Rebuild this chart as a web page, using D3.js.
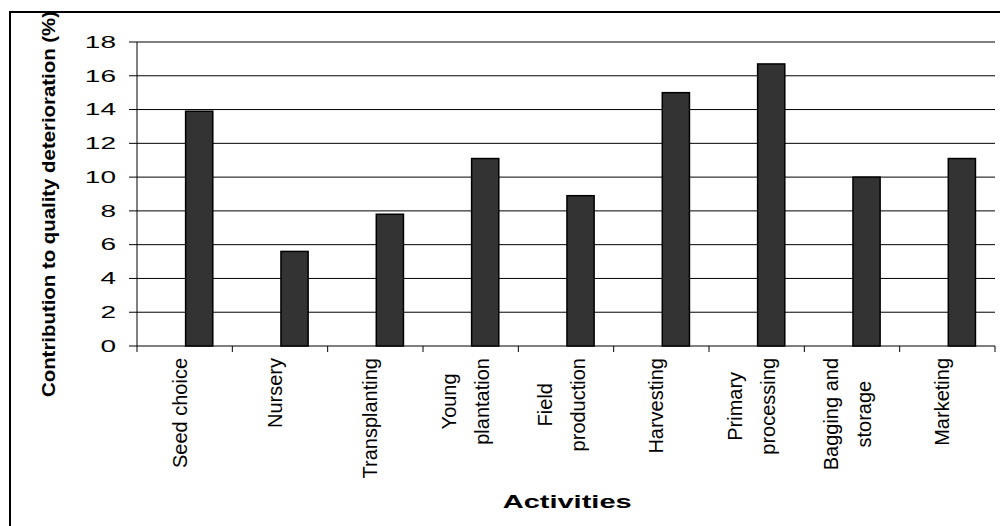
<!DOCTYPE html>
<html>
<head>
<meta charset="utf-8">
<script src="https://cdn.jsdelivr.net/npm/d3@7"></script>
<style>
  body { margin: 0; background: #fff; }
  svg { display: block; font-family: "Liberation Sans", Arial, sans-serif; }
</style>
</head>
<body>
<div id="chart"></div>
<script>
// values
const categories = ["Seed choice", "Nursery", "Transplanting", "Young plantation", "Field production",
                    "Harvesting", "Primary processing", "Bagging and storage", "Marketing"];
const labelLines = [["Seed choice"], ["Nursery"], ["Transplanting"], ["Young", "plantation"], ["Field", "production"],
                    ["Harvesting"], ["Primary", "processing"], ["Bagging and", "storage"], ["Marketing"]];
const values = [13.9, 5.6, 7.8, 11.1, 8.9, 15.0, 16.7, 10.0, 11.1];
const yTicks = [0, 2, 4, 6, 8, 10, 12, 14, 16, 18];
const yTitle = "Contribution to quality deterioration (%)";
const xTitle = "Activities";

const width = 1000, height = 526;
const plotLeft = 137, plotRight = 995, plotTop = 42, plotBottom = 346;

const svg = d3.select("#chart").append("svg")
    .attr("width", width)
    .attr("height", height);

svg.append("clipPath").attr("id", "frame-clip")
  .append("rect").attr("x", 10).attr("y", 12).attr("width", width).attr("height", height);

const g = svg.append("g").attr("clip-path", "url(#frame-clip)");

const x = d3.scaleBand().domain(categories).range([plotLeft, plotRight]).padding(0);
const y = d3.scaleLinear().domain([0, 18]).range([plotBottom, plotTop]);

// gridlines + y ticks
g.selectAll(".grid").data(yTicks).join("line")
    .attr("x1", plotLeft - 8).attr("x2", plotRight)
    .attr("y1", d => y(d)).attr("y2", d => y(d))
    .attr("stroke", "#000").attr("stroke-width", 1);

// y axis line
g.append("line")
    .attr("x1", plotLeft).attr("x2", plotLeft).attr("y1", plotTop).attr("y2", plotBottom)
    .attr("stroke", "#000").attr("stroke-width", 1);

// x ticks at category boundaries
const bounds = categories.map(c => x(c)).concat([plotRight]);
g.selectAll(".xtick").data(bounds).join("line")
    .attr("x1", d => d).attr("x2", d => d)
    .attr("y1", plotBottom).attr("y2", plotBottom + 6)
    .attr("stroke", "#000").attr("stroke-width", 1);

// bars
g.selectAll(".bar").data(values).join("rect")
    .attr("x", (d, i) => x(categories[i]) + x.bandwidth() * 0.51)
    .attr("width", x.bandwidth() * 0.285)
    .attr("y", d => y(d))
    .attr("height", d => y(0) - y(d))
    .attr("fill", "#333333")
    .attr("stroke", "#000")
    .attr("stroke-width", 1.5);

// y tick labels (stretched wide like the source image)
g.selectAll(".ylab").data(yTicks).join("text")
    .attr("transform", d => `translate(116,${y(d) + 5.8}) scale(1.72,1)`)
    .attr("text-anchor", "end")
    .attr("font-size", 16.3)
    .attr("fill", "#000")
    .text(d => d);

// x category labels, rotated, lines centred in a block that starts at y=358
const labelGroups = g.selectAll(".xlab").data(labelLines).join("g");
labelGroups.each(function(lines, i) {
  const grp = d3.select(this);
  const c = x(categories[i]) + x.bandwidth() / 2;
  const texts = lines.map(ln => grp.append("text")
      .attr("font-size", 20)
      .attr("text-anchor", "middle")
      .attr("fill", "#000")
      .text(ln));
  const maxLen = d3.max(texts, t => t.node().getComputedTextLength());
  const mid = 358 + maxLen / 2;
  texts.forEach((t, k) => {
    const bx = c + 2 + (k - (lines.length - 1) / 2) * 33;
    t.attr("transform", `translate(${bx},${mid}) rotate(-90)`);
  });
});

// y title
g.append("text")
    .attr("transform", "translate(55,397) rotate(-90)")
    .attr("font-size", 18.6)
    .attr("font-weight", "bold")
    .attr("textLength", 386)
    .attr("lengthAdjust", "spacingAndGlyphs")
    .text(yTitle);

// x title
g.append("text")
    .attr("x", 502.7).attr("y", 507.7)
    .attr("font-size", 19)
    .attr("font-weight", "bold")
    .attr("textLength", 129)
    .attr("lengthAdjust", "spacingAndGlyphs")
    .text(xTitle);

// frame (left + top edges, the rest runs off the picture)
svg.append("path")
    .attr("d", `M10,${height} V12 H${width}`)
    .attr("fill", "none")
    .attr("stroke", "#000")
    .attr("stroke-width", 2);
</script>
</body>
</html>
